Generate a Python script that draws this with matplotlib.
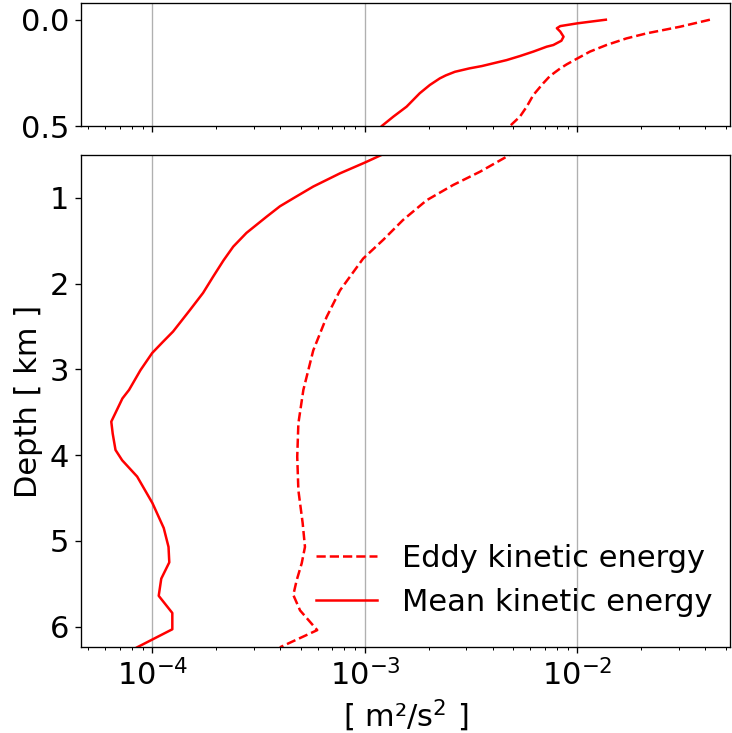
import matplotlib
matplotlib.use("Agg")
import matplotlib.pyplot as plt

# Depth profiles of kinetic energy [m^2/s^2] versus depth [km]
mke_depth = [0.0, 0.017, 0.03, 0.04, 0.056, 0.08, 0.099, 0.119, 0.127, 0.15,
             0.171, 0.19, 0.218, 0.229, 0.245, 0.262, 0.276, 0.307, 0.346, 0.409,
             0.456, 0.5, 0.59, 0.716, 0.87, 1.007, 1.10, 1.22, 1.41, 1.57,
             1.73, 1.92, 2.11, 2.31, 2.56, 2.68, 2.81, 3.01, 3.24, 3.34,
             3.61, 3.75, 3.94, 4.06, 4.25, 4.56, 4.85, 5.07, 5.25, 5.44,
             5.64, 5.84, 6.03, 6.24]
mke = [0.0136, 0.0100, 0.0083, 0.0080, 0.0083, 0.0086, 0.0084, 0.0077, 0.00716, 0.0062,
       0.00536, 0.00464, 0.00355, 0.00310, 0.00265, 0.00240, 0.00225, 0.00202, 0.00181, 0.00157,
       0.00136, 0.00120, 0.00100, 0.000763, 0.000571, 0.000460, 0.000398, 0.000345, 0.000277, 0.000240,
       0.000216, 0.000193, 0.000173, 0.000150, 0.000125, 0.000112, 0.0000997, 0.0000878, 0.0000776, 0.0000722,
       0.0000640, 0.0000650, 0.0000670, 0.0000720, 0.0000847, 0.000100, 0.000113, 0.000119, 0.000120, 0.000110,
       0.000107, 0.000124, 0.000124, 0.0000847]

eke_depth = [0.0, 0.033, 0.064, 0.088, 0.119, 0.150, 0.182, 0.210, 0.229, 0.265,
             0.299, 0.354, 0.409, 0.456, 0.5, 0.697, 0.852, 1.03, 1.26, 1.49,
             1.71, 2.08, 2.39, 2.78, 3.24, 3.63, 4.02, 4.41, 4.79, 5.07,
             5.26, 5.46, 5.63, 5.81, 6.04, 6.24]
eke = [0.042, 0.0304, 0.0212, 0.0170, 0.0137, 0.01145, 0.0100, 0.0089, 0.0083, 0.00742,
       0.0069, 0.0062, 0.00577, 0.00536, 0.00481, 0.00348, 0.00260, 0.00195, 0.00151, 0.00122,
       0.00098, 0.000763, 0.000660, 0.000571, 0.000513, 0.000486, 0.000480, 0.000486, 0.000509, 0.000522,
       0.000504, 0.000477, 0.000460, 0.000495, 0.000596, 0.000398]

plt.rcParams['font.size'] = 18.3

W, H = 732, 733
fig = plt.figure(figsize=(W / 120, H / 120), dpi=120)

left = 81 / W
width = (730.5 - 81) / W
ax_top = fig.add_axes([left, (H - 126) / H, width, (126 - 2.7) / H])
ax_bot = fig.add_axes([left, (H - 647.3) / H, width, (647.3 - 154.8) / H], sharex=ax_top)

for ax in (ax_top, ax_bot):
    ax.plot(eke, eke_depth, color='red', linestyle='--', label='Eddy kinetic energy')
    ax.plot(mke, mke_depth, color='red', linestyle='-', label='Mean kinetic energy')
    ax.set_xscale('log')
    ax.grid(True, axis='x', which='major')

ax_top.set_xlim(4.61e-5, 0.0525)
ax_top.set_ylim(0.5, -0.08)
ax_top.set_yticks([0.0, 0.5])
ax_top.set_yticklabels(['0.0', '0.5'])
ax_top.tick_params(axis='x', labelbottom=False)

ax_bot.set_ylim(6.24, 0.5)
ax_bot.set_yticks([1, 2, 3, 4, 5, 6])
ax_bot.set_xlabel('[ m²/s$^2$ ]')
ax_bot.set_ylabel('Depth [ km ]')
ax_bot.legend(loc='lower right', frameon=False, bbox_to_anchor=(1.014, 0.006))

fig.savefig('out.png', dpi=120)
